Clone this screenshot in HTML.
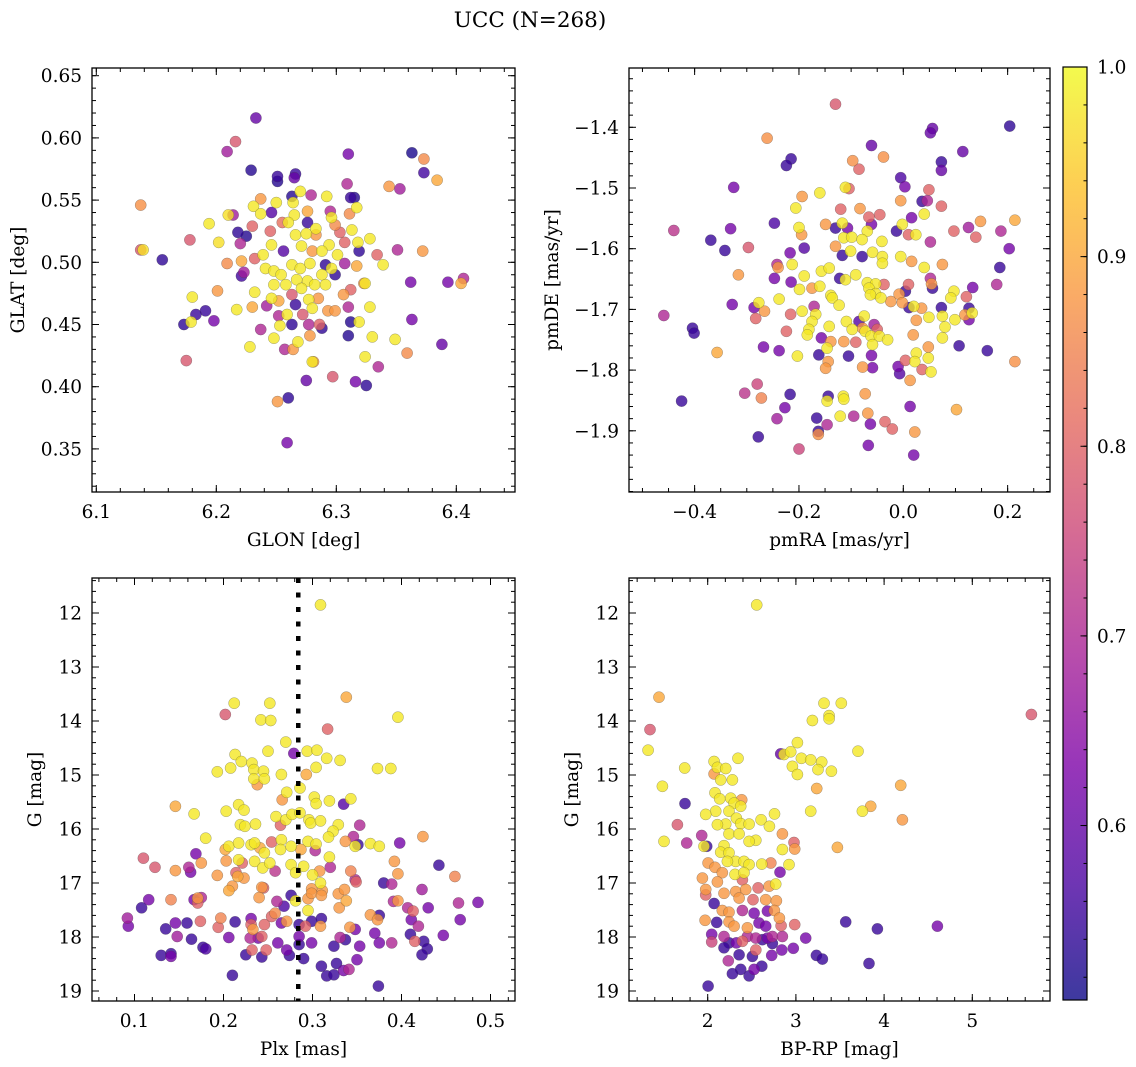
<!DOCTYPE html>
<html><head><meta charset="utf-8"><style>
html,body{margin:0;padding:0;background:#fff;}
svg{display:block;font-family:"DejaVu Serif","Liberation Serif",serif;}
</style></head><body>
<svg id="fig" width="1136" height="1067" viewBox="0 0 1136 1067" xmlns="http://www.w3.org/2000/svg">
<defs>
<linearGradient id="cbgrad" x1="0" y1="1" x2="0" y2="0"></linearGradient>
</defs>
<text x="530" y="27" font-size="21.5" text-anchor="middle">UCC (N=268)</text>
</svg>
<script>
// ---- Panel 1: GLON vs GLAT ----
const glon = [6.233,6.216,6.209,6.229,6.251,6.251,6.266,6.265,6.310,6.363,
6.373,6.373,6.384,6.344,6.353,6.309,6.137,6.137,6.139,6.155,
6.178,6.194,6.202,6.210,6.214,6.231,6.237,6.250,6.263,6.270,
6.279,6.264,6.276,6.292,6.312,6.315,6.317,6.311,6.295,6.296,
6.276,6.265,6.246,6.237,6.218,6.225,6.230,6.220,6.245,6.255,
6.260,6.266,6.275,6.283,6.283,6.299,6.313,6.303,6.307,6.318,
6.328,6.319,6.334,6.351,6.372,6.339,6.317,6.307,6.301,6.294,
6.288,6.280,6.271,6.256,6.246,6.239,6.232,6.221,6.209,6.221,
6.223,6.241,6.248,6.254,6.263,6.270,6.278,6.291,6.296,6.299,
6.288,6.276,6.267,6.258,6.248,6.271,6.282,6.291,6.323,6.324,
6.312,6.306,6.362,6.393,6.406,6.404,6.201,6.180,6.232,6.246,
6.252,6.263,6.277,6.285,6.280,6.266,6.242,6.230,6.217,6.191,
6.183,6.198,6.173,6.179,6.252,6.259,6.263,6.272,6.277,6.286,
6.288,6.293,6.299,6.310,6.319,6.328,6.312,6.310,6.330,6.349,
6.363,6.388,6.359,6.335,6.324,6.316,6.325,6.297,6.281,6.280,
6.278,6.268,6.264,6.257,6.248,6.237,6.253,6.228,6.175,6.275,
6.260,6.251,6.259];
const glat = [.616,.597,.589,.574,.569,.565,.571,.568,.587,.588,
.583,.572,.566,.561,.559,.563,.546,.510,.510,.502,
.518,.531,.516,.538,.538,.545,.551,.548,.553,.557,
.554,.548,.541,.553,.552,.552,.544,.539,.541,.536,
.532,.538,.540,.539,.524,.521,.529,.515,.525,.532,
.532,.522,.523,.527,.522,.530,.526,.524,.516,.516,
.519,.509,.506,.510,.509,.498,.497,.499,.506,.514,
.509,.509,.513,.509,.514,.506,.503,.501,.499,.489,
.492,.495,.493,.490,.498,.495,.499,.498,.495,.490,
.490,.485,.486,.482,.482,.479,.482,.482,.483,.483,
.478,.474,.484,.484,.487,.483,.477,.472,.476,.471,
.469,.474,.470,.471,.463,.466,.465,.464,.462,.461,
.458,.453,.450,.452,.457,.458,.450,.458,.450,.450,
.447,.461,.461,.464,.452,.464,.452,.441,.440,.438,
.454,.434,.427,.416,.424,.404,.401,.408,.420,.420,
.441,.436,.430,.430,.439,.446,.449,.432,.421,.405,
.391,.388,.355];
const prob1 = [.60,.78,.68,.53,.55,.53,.55,.60,.62,.52,
.86,.56,.90,.88,.68,.70,.87,.78,.97,.54,
.78,.98,.97,.97,.68,.98,.88,.98,.53,.98,
.70,.98,.90,.98,.55,.53,.98,.86,.70,.98,
.55,.98,.58,.98,.54,.53,.80,.70,.80,.82,
.98,.98,.98,.98,.88,.86,.98,.80,.80,.98,
.98,.54,.80,.70,.88,.98,.90,.68,.98,.98,
.98,.88,.98,.58,.98,.98,.80,.90,.86,.56,
.68,.98,.98,.98,.98,.98,.98,.54,.98,.54,
.98,.98,.98,.98,.98,.98,.98,.98,.88,.98,
.80,.88,.62,.62,.70,.90,.88,.98,.98,.98,
.90,.78,.98,.88,.98,.55,.68,.90,.98,.55,
.55,.62,.54,.98,.70,.98,.54,.78,.70,.80,
.54,.88,.88,.70,.98,.98,.53,.53,.98,.98,
.62,.60,.86,.70,.98,.62,.54,.78,.88,.98,
.88,.98,.88,.70,.98,.70,.98,.98,.78,.60,
.54,.88,.62];

// ---- Panel 2: pmRA vs pmDE ----
const pmra = [-0.130,0.204,0.056,0.052,-0.261,-0.061,0.114,-0.215,-0.224,-0.097,
-0.038,-0.085,0.073,0.073,-0.005,0.003,0.049,-0.325,-0.194,-0.160,
-0.111,-0.104,-0.005,0.036,0.046,0.073,0.040,0.016,-0.206,-0.120,
-0.083,-0.045,-0.066,-0.247,-0.331,-0.440,-0.200,-0.195,-0.149,-0.117,
-0.130,-0.107,-0.069,-0.061,-0.002,-0.013,0.024,0.010,0.097,0.125,
0.139,0.187,0.148,0.214,0.052,-0.369,-0.342,-0.297,-0.217,-0.190,
-0.114,-0.099,-0.079,-0.041,-0.130,-0.101,-0.117,-0.079,-0.059,-0.040,
-0.040,-0.005,0.016,0.203,0.185,0.179,0.075,0.040,0.052,0.056,
0.054,0.133,0.121,0.097,0.091,-0.316,-0.240,-0.242,-0.247,-0.213,
-0.215,-0.190,-0.157,-0.142,-0.175,-0.199,-0.160,-0.139,-0.136,-0.123,
-0.122,-0.111,-0.091,-0.069,-0.053,-0.037,-0.066,-0.053,-0.043,-0.063,
-0.024,-0.008,-0.002,0.010,0.004,0.011,0.020,0.035,0.049,0.075,
0.073,0.126,0.132,0.118,0.126,0.099,0.080,0.075,0.025,0.019,
-0.459,-0.328,-0.286,-0.277,-0.266,-0.283,-0.238,-0.216,-0.194,-0.171,
-0.168,-0.175,-0.181,-0.184,-0.224,-0.142,-0.109,-0.098,-0.085,-0.075,
-0.078,-0.056,-0.050,-0.073,-0.062,-0.046,-0.030,-0.059,-0.091,-0.114,
-0.139,-0.157,-0.146,-0.162,-0.144,-0.149,-0.105,-0.078,-0.061,-0.059,
-0.010,-0.007,0.004,0.025,0.022,0.048,0.048,0.036,0.053,0.013,
0.107,0.161,0.214,-0.268,-0.238,-0.203,-0.357,-0.404,-0.401,-0.425,
-0.304,-0.280,-0.272,-0.217,-0.227,-0.242,-0.278,-0.200,-0.166,-0.163,
-0.163,-0.146,-0.144,-0.146,-0.115,-0.114,-0.121,-0.095,-0.073,-0.068,
-0.063,-0.067,-0.035,-0.021,0.013,0.022,0.020,0.102];
const pmde = [-1.362,-1.398,-1.402,-1.409,-1.418,-1.430,-1.440,-1.452,-1.463,-1.455,
-1.449,-1.469,-1.457,-1.471,-1.483,-1.498,-1.503,-1.499,-1.514,-1.508,
-1.499,-1.501,-1.521,-1.522,-1.521,-1.530,-1.543,-1.549,-1.533,-1.535,
-1.534,-1.544,-1.548,-1.558,-1.567,-1.570,-1.565,-1.577,-1.560,-1.558,
-1.566,-1.566,-1.571,-1.560,-1.560,-1.571,-1.577,-1.577,-1.571,-1.565,
-1.581,-1.571,-1.555,-1.553,-1.589,-1.586,-1.603,-1.598,-1.607,-1.599,
-1.582,-1.581,-1.585,-1.588,-1.596,-1.604,-1.611,-1.613,-1.606,-1.613,
-1.624,-1.613,-1.621,-1.600,-1.631,-1.659,-1.626,-1.631,-1.649,-1.665,
-1.658,-1.664,-1.679,-1.670,-1.681,-1.643,-1.631,-1.626,-1.649,-1.626,
-1.655,-1.645,-1.637,-1.632,-1.665,-1.667,-1.662,-1.677,-1.681,-1.693,
-1.649,-1.651,-1.643,-1.656,-1.658,-1.659,-1.665,-1.674,-1.681,-1.676,
-1.687,-1.675,-1.689,-1.659,-1.670,-1.697,-1.695,-1.698,-1.713,-1.711,
-1.697,-1.698,-1.706,-1.709,-1.717,-1.717,-1.729,-1.747,-1.718,-1.742,
-1.710,-1.692,-1.697,-1.689,-1.703,-1.715,-1.683,-1.708,-1.703,-1.695,
-1.708,-1.720,-1.733,-1.742,-1.736,-1.728,-1.720,-1.733,-1.720,-1.711,
-1.731,-1.725,-1.733,-1.736,-1.744,-1.744,-1.750,-1.758,-1.754,-1.753,
-1.753,-1.747,-1.764,-1.775,-1.786,-1.797,-1.777,-1.795,-1.776,-1.796,
-1.794,-1.806,-1.784,-1.772,-1.786,-1.762,-1.780,-1.799,-1.803,-1.817,
-1.760,-1.768,-1.786,-1.762,-1.768,-1.777,-1.771,-1.731,-1.739,-1.851,
-1.838,-1.823,-1.846,-1.840,-1.862,-1.880,-1.910,-1.930,-1.879,-1.901,
-1.906,-1.890,-1.843,-1.851,-1.843,-1.848,-1.876,-1.876,-1.839,-1.871,
-1.889,-1.924,-1.885,-1.897,-1.860,-1.902,-1.940,-1.865];
const prob2 = [.78,.54,.60,.60,.87,.60,.60,.55,.55,.87,
.87,.80,.55,.60,.57,.62,.80,.62,.88,.98,
.98,.80,.88,.55,.70,.80,.98,.62,.98,.80,
.88,.80,.80,.57,.62,.72,.98,.88,.88,.98,
.55,.62,.98,.62,.98,.55,.98,.80,.80,.68,
.80,.70,.88,.90,.70,.55,.55,.78,.62,.58,
.98,.98,.98,.98,.88,.98,.55,.55,.98,.98,
.98,.98,.88,.62,.55,.70,.88,.98,.70,.55,
.88,.62,.80,.98,.98,.88,.88,.70,.62,.98,
.62,.98,.98,.98,.88,.98,.98,.98,.98,.98,
.55,.98,.98,.98,.98,.80,.98,.98,.98,.98,
.88,.88,.88,.80,.55,.55,.98,.88,.98,.98,
.55,.55,.98,.88,.62,.98,.98,.98,.88,.88,
.70,.62,.62,.98,.88,.80,.98,.80,.98,.70,
.98,.98,.98,.98,.80,.98,.98,.98,.58,.98,
.88,.68,.80,.98,.98,.98,.98,.98,.80,.88,
.88,.62,.98,.55,.88,.88,.55,.88,.62,.62,
.62,.58,.80,.98,.98,.88,.98,.80,.98,.88,
.55,.55,.87,.62,.62,.98,.90,.55,.55,.55,
.72,.75,.85,.55,.62,.68,.55,.75,.55,.55,
.87,.70,.55,.98,.98,.98,.98,.70,.88,.88,
.62,.62,.80,.80,.62,.88,.62,.90];

// ---- Panel 3: Plx vs G ----
const plx = [0.309,0.338,0.396,0.212,0.252,0.202,0.242,0.253,0.317,0.270,
0.279,0.294,0.305,0.316,0.331,0.250,0.213,0.220,0.232,0.208,
0.193,0.234,0.245,0.234,0.246,0.238,0.265,0.293,0.304,0.373,
0.388,0.271,0.286,0.266,0.302,0.304,0.319,0.343,0.335,0.146,
0.167,0.203,0.217,0.223,0.259,0.270,0.277,0.286,0.296,0.298,
0.309,0.264,0.219,0.224,0.236,0.329,0.323,0.318,0.337,0.346,
0.353,0.348,0.351,0.365,0.375,0.398,0.424,0.180,0.202,0.206,
0.217,0.231,0.235,0.241,0.246,0.254,0.265,0.264,0.276,0.287,
0.295,0.304,0.303,0.319,0.217,0.221,0.235,0.244,0.252,0.258,
0.276,0.290,0.281,0.300,0.308,0.320,0.309,0.311,0.299,0.343,
0.348,0.349,0.392,0.396,0.380,0.389,0.442,0.460,0.423,0.110,
0.123,0.146,0.161,0.163,0.169,0.175,0.193,0.203,0.214,0.216,
0.223,0.206,0.210,0.243,0.245,0.240,0.276,0.281,0.295,0.299,
0.310,0.295,0.329,0.336,0.338,0.330,0.116,0.108,0.141,0.167,
0.171,0.171,0.175,0.092,0.093,0.135,0.146,0.148,0.159,0.164,
0.174,0.177,0.180,0.130,0.141,0.141,0.194,0.197,0.213,0.206,
0.210,0.231,0.231,0.233,0.230,0.239,0.243,0.246,0.254,0.258,
0.260,0.268,0.232,0.225,0.243,0.248,0.261,0.265,0.271,0.274,
0.271,0.285,0.285,0.285,0.290,0.292,0.299,0.310,0.309,0.299,
0.310,0.316,0.324,0.327,0.335,0.341,0.350,0.324,0.331,0.337,
0.342,0.348,0.353,0.365,0.373,0.375,0.370,0.375,0.389,0.374,
0.391,0.396,0.407,0.413,0.411,0.419,0.410,0.415,0.425,0.429,
0.423,0.430,0.447,0.464,0.466,0.486];
const g3 = [11.85,13.56,13.93,13.67,13.67,13.88,13.98,13.99,14.15,14.39,
14.60,14.56,14.54,14.69,14.73,14.56,14.62,14.75,14.78,14.87,
14.94,14.90,14.93,15.07,15.07,15.18,14.99,14.99,14.86,14.88,
14.88,15.32,15.24,15.46,15.41,15.53,15.48,15.44,15.54,15.58,
15.72,15.67,15.55,15.65,15.77,15.83,15.73,15.70,15.83,15.89,
15.85,15.93,15.92,15.95,15.91,15.92,16.04,16.15,16.23,16.14,
15.93,16.32,16.29,16.27,16.32,16.26,16.14,16.17,16.38,16.32,
16.26,16.29,16.26,16.35,16.44,16.24,16.20,16.38,16.32,16.38,
16.23,16.28,16.40,16.52,16.57,16.63,16.60,16.72,16.63,16.78,
16.66,16.69,16.81,16.85,16.78,16.71,17.00,17.14,17.11,16.78,
16.94,16.98,16.60,16.83,17.00,17.02,16.67,16.88,17.12,16.54,
16.71,16.77,16.71,16.80,16.46,16.63,16.86,16.59,16.81,16.88,
16.91,17.14,17.06,17.08,17.09,17.27,17.23,17.33,17.29,17.19,
17.23,17.51,17.20,17.12,17.33,17.46,17.31,17.46,17.31,17.31,
17.37,17.28,17.27,17.65,17.80,17.85,17.74,17.99,17.74,18.04,
17.71,18.19,18.22,18.34,18.31,18.36,17.82,17.65,17.72,18.01,
18.71,17.66,17.77,17.86,18.02,18.02,17.99,17.77,17.62,17.56,
17.34,17.43,18.24,18.33,18.37,18.24,18.11,17.74,18.24,18.34,
17.71,17.77,17.99,18.14,18.40,17.80,17.71,17.66,17.80,18.11,
18.54,18.72,18.70,18.49,18.62,18.60,18.42,18.17,18.01,18.05,
17.82,17.86,18.17,17.59,17.68,17.60,17.93,18.11,18.11,18.91,
17.34,17.33,17.46,17.52,17.68,17.80,17.95,18.08,18.08,18.22,
18.33,17.46,17.97,17.37,17.68,17.36];
const prob3 = [.98,.90,.98,.98,.98,.78,.98,.98,.80,.98,
.62,.98,.98,.98,.98,.98,.98,.98,.98,.98,
.98,.98,.98,.98,.98,.88,.98,.90,.98,.98,
.98,.98,.98,.88,.98,.98,.98,.98,.58,.90,
.98,.98,.98,.98,.98,.98,.98,.98,.98,.98,
.98,.80,.98,.98,.98,.98,.98,.98,.88,.70,
.70,.98,.55,.98,.98,.62,.88,.98,.90,.98,
.98,.98,.98,.90,.98,.80,.98,.98,.98,.90,
.98,.98,.70,.98,.98,.80,.98,.98,.98,.72,
.98,.98,.98,.98,.88,.70,.98,.88,.88,.85,
.70,.80,.88,.88,.55,.70,.55,.85,.68,.78,
.78,.88,.70,.62,.62,.88,.88,.88,.80,.90,
.88,.90,.88,.88,.80,.88,.55,.98,.88,.88,
.88,.98,.88,.88,.90,.88,.62,.55,.85,.62,
.80,.88,.70,.68,.62,.55,.62,.68,.55,.55,
.80,.55,.57,.55,.55,.62,.80,.85,.55,.62,
.55,.62,.80,.88,.70,.62,.80,.80,.80,.86,
.70,.57,.80,.55,.55,.80,.62,.62,.62,.55,
.88,.55,.62,.55,.55,.80,.55,.55,.88,.62,
.55,.55,.55,.55,.62,.70,.62,.55,.70,.55,
.88,.62,.62,.88,.88,.55,.62,.62,.70,.55,
.70,.88,.70,.80,.62,.70,.55,.80,.55,.55,
.55,.62,.62,.70,.62,.62];
const plxLine = 0.284;

// ---- Panel 4: BP-RP vs G ----
const bprp = [2.556,1.448,1.346,1.324,5.670,3.319,3.515,3.376,3.376,3.187,
3.017,2.828,2.865,2.941,3.062,3.168,3.293,3.402,3.251,2.960,
3.017,3.704,3.236,3.168,3.754,3.848,4.188,4.207,3.470,1.739,
1.486,1.743,1.656,1.505,1.762,1.932,1.958,1.989,2.072,2.110,
2.204,2.344,2.072,2.147,2.280,2.083,2.136,2.261,2.299,2.386,
2.374,2.091,1.977,2.242,2.325,2.204,2.110,2.374,2.469,2.605,
2.700,2.757,2.242,2.356,2.545,2.469,2.185,2.147,2.242,2.318,
2.223,2.412,2.469,2.613,2.715,2.847,2.979,2.986,2.847,2.922,
2.820,2.771,2.696,2.004,2.083,2.166,2.310,2.412,1.940,1.977,
2.110,2.185,2.318,2.393,2.431,2.356,2.514,2.571,2.658,2.779,
1.977,2.072,2.166,2.242,2.393,2.526,2.677,2.756,1.970,2.102,
2.242,2.299,2.450,2.582,2.658,2.813,2.832,2.986,2.045,2.045,
2.185,2.242,2.185,2.325,2.393,2.450,2.545,2.620,2.677,2.734,
2.847,2.734,2.840,2.971,3.111,2.545,2.356,2.507,2.726,2.234,
2.374,2.280,2.469,2.526,2.613,3.232,3.300,3.565,3.924,3.829,
4.604,2.004];
const g4 = [11.85,13.56,14.16,14.54,13.88,13.67,13.67,13.90,13.96,13.99,
14.40,14.61,14.62,14.57,14.69,14.72,14.76,14.93,14.90,14.84,
14.99,14.56,15.25,15.67,15.67,15.58,15.19,15.83,16.34,14.87,
15.21,15.53,15.92,16.23,16.26,16.12,16.32,16.32,14.75,14.86,
14.88,14.69,14.98,15.09,15.09,15.33,15.44,15.43,15.52,15.46,
15.58,15.67,15.73,15.67,15.80,15.91,15.92,15.90,15.91,15.83,
15.95,15.72,16.09,16.09,16.21,16.23,16.31,16.43,16.44,16.60,
16.60,16.60,16.66,16.65,16.63,16.09,16.25,16.37,16.38,16.66,
16.80,17.02,17.06,16.63,16.71,16.81,16.84,16.81,16.91,17.12,
16.98,17.19,17.16,16.94,17.12,17.28,17.31,17.09,17.31,17.33,
17.22,17.38,17.51,17.54,17.51,17.56,17.52,17.51,17.69,17.73,
17.72,17.80,17.83,17.74,17.80,17.65,17.79,17.77,17.95,18.09,
17.99,18.11,18.20,18.11,18.08,17.99,18.02,18.05,18.02,17.99,
17.99,18.12,18.24,18.21,18.02,18.24,18.33,18.36,18.34,18.44,
18.60,18.68,18.72,18.60,18.54,18.34,18.41,17.72,17.85,18.49,
17.80,18.91];
const prob4 = [.98,.90,.78,.98,.78,.98,.98,.98,.98,.98,
.98,.60,.98,.98,.98,.98,.98,.98,.98,.98,
.98,.98,.90,.98,.98,.90,.90,.88,.90,.98,
.98,.55,.78,.98,.70,.70,.98,.55,.98,.98,
.98,.98,.88,.98,.98,.98,.98,.98,.98,.88,
.98,.98,.98,.98,.98,.98,.98,.98,.98,.98,
.98,.98,.98,.98,.98,.98,.98,.98,.98,.98,
.98,.98,.98,.98,.85,.88,.80,.88,.98,.98,
.62,.98,.88,.88,.88,.88,.98,.98,.88,.88,
.88,.88,.88,.80,.88,.88,.80,.80,.88,.88,
.80,.55,.88,.88,.70,.62,.62,.88,.88,.55,
.88,.88,.88,.62,.62,.88,.80,.80,.62,.75,
.70,.55,.55,.62,.80,.70,.70,.55,.62,.70,
.70,.55,.62,.62,.62,.80,.55,.55,.62,.70,
.55,.55,.55,.62,.55,.55,.55,.55,.55,.55,
.62,.55];

// ---- Colorbar ----
const cbMin = 0.508, cbMax = 1.0;
const cbTicks = [0.6, 0.7, 0.8, 0.9, 1.0];
const cbTickLabels = ["0.6","0.7","0.8","0.9","1.0"];

const NS = "http://www.w3.org/2000/svg";
const svg = document.getElementById("fig");
const plasma = [[13,8,135],[75,3,161],[125,3,168],[168,34,150],[203,70,121],[229,107,93],[248,148,65],[253,195,40],[240,249,33]];
function cmap(v){
  let t = (v - cbMin) / (cbMax - cbMin); t = Math.max(0, Math.min(1, t));
  const p = t * (plasma.length - 1); const i = Math.min(plasma.length - 2, Math.floor(p)); const f = p - i;
  const a = plasma[i], b = plasma[i+1];
  return "rgb(" + [0,1,2].map(k => Math.round(a[k] + (b[k]-a[k]) * f)).join(",") + ")";
}
function mk(tag, attrs, parent){
  const e = document.createElementNS(NS, tag);
  for (const k in attrs) e.setAttribute(k, attrs[k]);
  (parent || svg).appendChild(e);
  return e;
}
const FS = 18.5;

function panel(cfg){
  const g = mk("g", {});
  
  
  const L = cfg.L, R = cfg.R, T = cfg.T, B = cfg.B;
  const clipId = cfg.name + "-clip";
  const cp = mk("clipPath", {id: clipId}, g);
  mk("rect", {x: L, y: T, width: R-L, height: B-T}, cp);
  const pts = mk("g", {"clip-path": "url(#" + clipId + ")"}, g);
  
  
  const idx = cfg.xs.map((_, i) => i).sort((a, b) => cfg.cs[a] - cfg.cs[b]);
  idx.forEach(i => {
    const c = mk("circle", {cx: cfg.sx(cfg.xs[i]).toFixed(1), cy: cfg.sy(cfg.ys[i]).toFixed(1), r: 5.6,
      fill: cmap(cfg.cs[i]), "fill-opacity": 0.8, stroke: "#444", "stroke-opacity": 0.55, "stroke-width": 0.45}, pts);
    
    
  });
  if (cfg.vline !== undefined){
    const x = cfg.sx(cfg.vline);
    const ln = mk("line", {x1: x, y1: T, x2: x, y2: B, stroke: "#000", "stroke-width": 4.5, "stroke-dasharray": "5,9.5"}, g);
    
    
  }
  const fr = mk("rect", {x: L, y: T, width: R-L, height: B-T, fill: "none", stroke: "#000", "stroke-width": 1.3}, g);
  
  
  const tg = mk("g", {stroke: "#000", "stroke-width": 1}, g);
  function xt(v, len){ const x = cfg.sx(v); if (x < L-0.5 || x > R+0.5) return;
    mk("line", {x1: x, y1: B, x2: x, y2: B-len}, tg); mk("line", {x1: x, y1: T, x2: x, y2: T+len}, tg); }
  function yt(v, len){ const y = cfg.sy(v); if (y < T-0.5 || y > B+0.5) return;
    mk("line", {x1: L, y1: y, x2: L+len, y2: y}, tg); mk("line", {x1: R, y1: y, x2: R-len, y2: y}, tg); }
  for (let k = -200; k <= 200; k++){ const v = cfg.xMinorStep * k + cfg.xMinorBase; xt(v, 4); }
  for (let k = -200; k <= 200; k++){ const v = cfg.yMinorStep * k + cfg.yMinorBase; yt(v, 4); }
  cfg.xTicks.forEach((v, i) => {
    xt(v, 7);
    const t = mk("text", {x: cfg.sx(v), y: B + 26, "font-size": FS, "text-anchor": "middle"}, g);
    t.textContent = cfg.xLabels[i];
    
    
  });
  cfg.yTicks.forEach((v, i) => {
    yt(v, 7);
    const t = mk("text", {x: L - 10, y: cfg.sy(v) + 6.5, "font-size": FS, "text-anchor": "end"}, g);
    t.textContent = cfg.yLabels[i];
    
    
  });
  const xl = mk("text", {x: (L+R)/2, y: B + 54, "font-size": FS, "text-anchor": "middle"}, g);
  xl.textContent = cfg.xTitle;
  
  
  const yx = cfg.yTitleX, yy = (T+B)/2;
  const yl = mk("text", {x: yx, y: yy, "font-size": FS, "text-anchor": "middle", transform: "rotate(-90 " + yx + " " + yy + ")"}, g);
  yl.textContent = cfg.yTitle;
  
  
}

panel({name: "glon-glat-panel", L: 92, R: 515, T: 68, B: 492,
  sx: v => 96.3 + (v - 6.1) * 1200, sy: v => 262.3 - (v - 0.5) * 1244,
  xs: glon, ys: glat, cs: prob1,
  xTicks: [6.1, 6.2, 6.3, 6.4], xLabels: ["6.1","6.2","6.3","6.4"],
  yTicks: [0.35,0.40,0.45,0.50,0.55,0.60,0.65], yLabels: ["0.35","0.40","0.45","0.50","0.55","0.60","0.65"],
  xMinorStep: 0.02, xMinorBase: 6.1, yMinorStep: 0.01, yMinorBase: 0.5,
  xTitle: "GLON [deg]", yTitle: "GLAT [deg]", yTitleX: 24});

panel({name: "pm-panel", L: 629, R: 1050, T: 68, B: 492,
  sx: v => 903.3 + v * 521.7, sy: v => 127.3 - (v + 1.4) * 607,
  xs: pmra, ys: pmde, cs: prob2,
  xTicks: [-0.4, -0.2, 0.0, 0.2], xLabels: ["\u22120.4","\u22120.2","0.0","0.2"],
  yTicks: [-1.9,-1.8,-1.7,-1.6,-1.5,-1.4], yLabels: ["\u22121.9","\u22121.8","\u22121.7","\u22121.6","\u22121.5","\u22121.4"],
  xMinorStep: 0.05, xMinorBase: 0, yMinorStep: 0.02, yMinorBase: -1.4,
  xTitle: "pmRA [mas/yr]", yTitle: "pmDE [mas/yr]", yTitleX: 558});

panel({name: "plx-g-panel", L: 92, R: 515, T: 578, B: 1001,
  sx: v => 134.5 + (v - 0.1) * 890, sy: v => 613 + (v - 12) * 54,
  xs: plx, ys: g3, cs: prob3, vline: plxLine,
  xTicks: [0.1,0.2,0.3,0.4,0.5], xLabels: ["0.1","0.2","0.3","0.4","0.5"],
  yTicks: [12,13,14,15,16,17,18,19], yLabels: ["12","13","14","15","16","17","18","19"],
  xMinorStep: 0.02, xMinorBase: 0.1, yMinorStep: 0.2, yMinorBase: 12,
  xTitle: "Plx [mas]", yTitle: "G [mag]", yTitleX: 41});

panel({name: "cmd-panel", L: 629, R: 1050, T: 578, B: 1001,
  sx: v => 707.7 + (v - 2) * 88.2, sy: v => 613 + (v - 12) * 54,
  xs: bprp, ys: g4, cs: prob4,
  xTicks: [2,3,4,5], xLabels: ["2","3","4","5"],
  yTicks: [12,13,14,15,16,17,18,19], yLabels: ["12","13","14","15","16","17","18","19"],
  xMinorStep: 0.2, xMinorBase: 2, yMinorStep: 0.2, yMinorBase: 12,
  xTitle: "BP-RP [mag]", yTitle: "G [mag]", yTitleX: 578});

(function(){
  const grad = document.getElementById("cbgrad");
  for (let k = 0; k <= 16; k++){
    const v = cbMin + (cbMax - cbMin) * k / 16;
    mk("stop", {offset: (k/16).toFixed(3), "stop-color": cmap(v), "stop-opacity": 0.8}, grad);
  }
  const cL = 1063, cR = 1087, cT = 67, cB = 1000;
  const cy = v => cB - (v - cbMin) / (cbMax - cbMin) * (cB - cT);
  const g = mk("g", {});
  
  
  mk("rect", {x: cL, y: cT, width: cR-cL, height: cB-cT, fill: "url(#cbgrad)"}, g);
  mk("rect", {x: cL, y: cT, width: cR-cL, height: cB-cT, fill: "none", stroke: "#000", "stroke-width": 1.2}, g);
  for (let k = 0; k <= 30; k++){
    const v = 0.52 + 0.02 * k; const y = cy(v);
    if (y < cT || y > cB) continue;
    mk("line", {x1: cR, y1: y, x2: cR - 3.5, y2: y, stroke: "#000", "stroke-width": 1}, g);
  }
  cbTicks.forEach((v, i) => {
    const y = cy(v);
    mk("line", {x1: cR, y1: y, x2: cR - 6.5, y2: y, stroke: "#000", "stroke-width": 1}, g);
    const t = mk("text", {x: cR + 10, y: y + 6.5, "font-size": FS}, g);
    t.textContent = cbTickLabels[i];
    
    
  });
})();
</script>
</body></html>
